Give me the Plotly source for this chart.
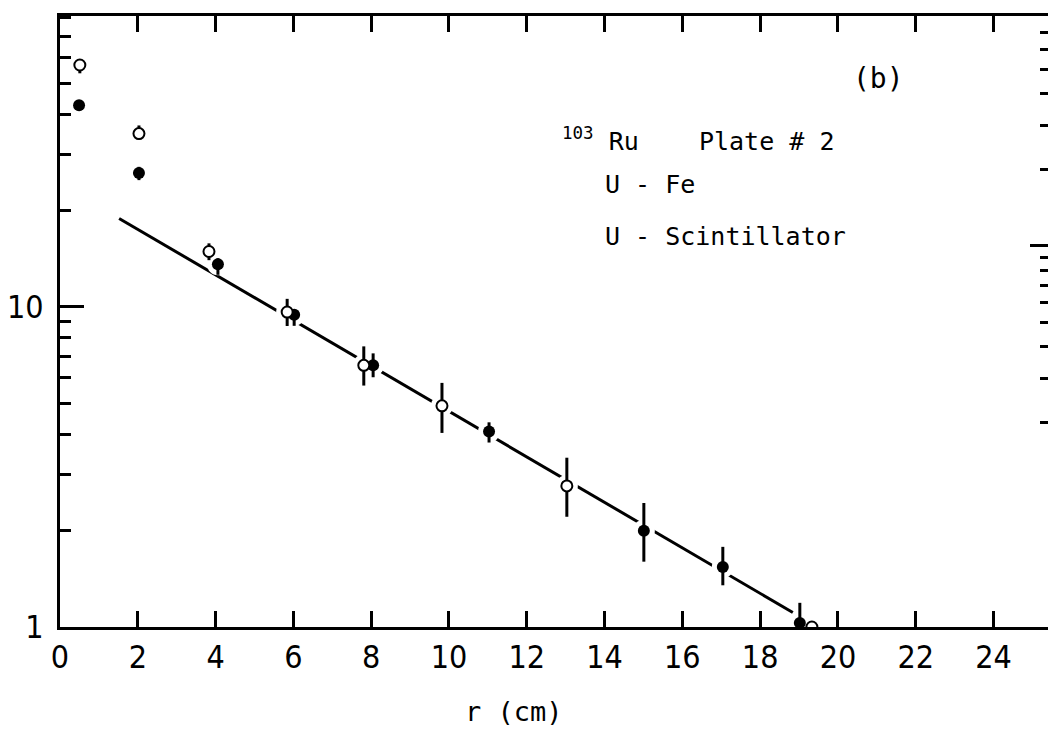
import plotly.graph_objects as go

# Radial distance (cm) and activity for the two calorimeter set-ups
r_open = [0.51, 2.03, 3.83, 5.84, 7.81, 9.82, 13.03, 19.33]
val_open = [57.0, 34.8, 14.9, 9.64, 6.57, 4.91, 2.76, 1.0]
hi_open = [59.4, 36.9, 15.8, 10.6, 7.53, 5.79, 3.38, 1.0]
lo_open = [53.7, 33.3, 14.0, 8.72, 5.68, 4.04, 2.21, 1.0]

r_filled = [0.49, 2.03, 4.06, 6.02, 8.05, 11.03, 15.01, 17.04, 19.02]
val_filled = [42.7, 26.2, 13.6, 9.45, 6.57, 4.08, 2.00, 1.54, 1.03]
hi_filled = [44.0, 27.4, 14.2, 9.79, 7.16, 4.36, 2.44, 1.78, 1.19]
lo_filled = [41.5, 24.9, 12.6, 8.73, 6.03, 3.77, 1.60, 1.35, 0.895]

# Exponential fit drawn as a straight line on the log scale
fit_r = [1.52, 18.84]
fit_val = [18.9, 1.11]

x_ticks = list(range(0, 25, 2))
y_major = [1, 10]
y_minor = [2, 3, 4, 5, 6, 7, 8, 9, 20, 30, 40, 50, 60, 70, 80]
y2_minor = [2, 3, 4, 5, 6, 7, 8, 9, 20, 30, 40, 50, 60, 70]

W, H = 1048, 733
L, R, T, B = 60, 0, 16, 106
narrow = "Liberation Sans Narrow, DejaVu Sans Condensed, Liberation Sans, sans-serif"
mono = "DejaVu Sans Mono, Liberation Mono, monospace"


def px_x(px):
    return (px - L) / (W - L - R)


def px_y(py):
    return (H - B - py) / (H - T - B)


def plus(v, hi):
    return [h - x for x, h in zip(v, hi)]


def minus(v, lo):
    return [x - l for x, l in zip(v, lo)]


fig = go.Figure()

fig.add_trace(go.Scatter(
    x=fit_r, y=fit_val, mode="lines",
    line=dict(color="black", width=3), hoverinfo="skip", showlegend=False))

# white halo so the fit line breaks around each point
for xs, ys in ((r_open, val_open), (r_filled, val_filled)):
    fig.add_trace(go.Scatter(
        x=xs, y=ys, mode="markers",
        marker=dict(symbol="circle", size=22, color="white", line=dict(width=0)),
        hoverinfo="skip", showlegend=False))

fig.add_trace(go.Scatter(
    x=r_filled, y=val_filled, mode="markers", name="U - Scintillator",
    marker=dict(symbol="circle", size=12, color="black"),
    error_y=dict(type="data", symmetric=False,
                 array=plus(val_filled, hi_filled),
                 arrayminus=minus(val_filled, lo_filled),
                 thickness=3, width=0, color="black"),
    cliponaxis=False, showlegend=False))

fig.add_trace(go.Scatter(
    x=r_open, y=val_open, mode="markers", name="U - Fe",
    marker=dict(symbol="circle", size=11, color="white",
                line=dict(color="black", width=2)),
    error_y=dict(type="data", symmetric=False,
                 array=plus(val_open, hi_open),
                 arrayminus=minus(val_open, lo_open),
                 thickness=3, width=0, color="black"),
    cliponaxis=True, showlegend=False))

# carrier for the right-hand tick scale
fig.add_trace(go.Scatter(
    x=[0], y=[10], yaxis="y2", mode="markers",
    marker=dict(opacity=0), hoverinfo="skip", showlegend=False))

txt = dict(color="black", family=mono, size=25)
fig.add_annotation(x=px_x(878), y=px_y(78), xref="paper", yref="paper",
                   text="(b)", showarrow=False, xanchor="center", yanchor="middle",
                   font=dict(color="black", family=mono, size=28))
fig.add_annotation(x=px_x(560), y=px_y(139), xref="paper", yref="paper",
                   text="<sup>103</sup> Ru    Plate # 2", showarrow=False,
                   xanchor="left", yanchor="middle", font=txt)
fig.add_annotation(x=px_x(603), y=px_y(184), xref="paper", yref="paper",
                   text="U - Fe", showarrow=False,
                   xanchor="left", yanchor="middle", font=txt)
fig.add_annotation(x=px_x(603), y=px_y(237), xref="paper", yref="paper",
                   text="U - Scintillator", showarrow=False,
                   xanchor="left", yanchor="middle", font=txt)
fig.add_annotation(x=px_x(514), y=px_y(711), xref="paper", yref="paper",
                   text="r (cm)", showarrow=False,
                   xanchor="center", yanchor="middle",
                   font=dict(color="black", family=mono, size=27))

fig.update_layout(
    width=W, height=H,
    margin=dict(l=L, r=R, t=T, b=B, pad=0),
    paper_bgcolor="white", plot_bgcolor="white",
    showlegend=False,
    xaxis=dict(
        range=[0, 25.4], tickvals=x_ticks, ticktext=[str(v) for v in x_ticks],
        ticks="inside", ticklen=16, tickwidth=2.5, tickcolor="black",
        showline=True, linewidth=3, linecolor="black", mirror="ticks",
        showgrid=False, zeroline=False, ticklabelstandoff=0,
        tickfont=dict(family=narrow, size=32, color="black")),
    yaxis=dict(
        type="log", range=[0, 1.909], tickvals=y_major, ticktext=["1", "10"],
        ticks="inside", ticklen=24, tickwidth=2.5, tickcolor="black",
        minor=dict(tickvals=y_minor, ticks="inside", ticklen=11,
                   tickwidth=2.5, tickcolor="black", showgrid=False),
        showline=True, linewidth=3, linecolor="black", mirror=False,
        showgrid=False, zeroline=False, ticklabelstandoff=7,
        tickfont=dict(family=narrow, size=32, color="black")),
    yaxis2=dict(
        type="log", range=[-0.506, 1.909], overlaying="y", side="right",
        tickvals=[10], ticks="inside", ticklen=18, tickwidth=2.5,
        tickcolor="black", showticklabels=False,
        minor=dict(tickvals=y2_minor, ticks="inside", ticklen=8,
                   tickwidth=2.5, tickcolor="black", showgrid=False),
        showline=False, showgrid=False, zeroline=False),
)

fig.write_html("out.html")
